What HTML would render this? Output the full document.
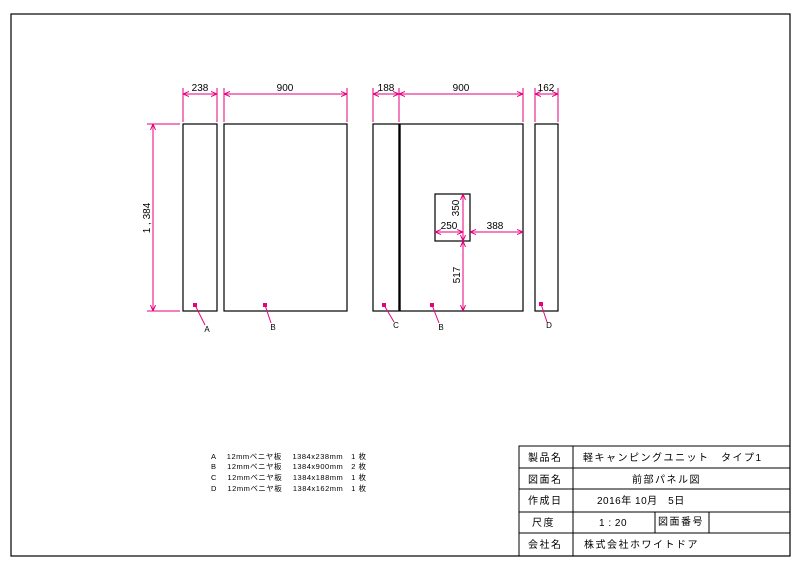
<!DOCTYPE html>
<html><head><meta charset="utf-8"><style>
html,body{margin:0;padding:0;background:#fff}
svg{display:block}
text{font-family:"Liberation Sans","Noto Sans CJK JP",sans-serif}
</style></head><body>
<svg width="800" height="565" viewBox="0 0 800 565" xmlns="http://www.w3.org/2000/svg">
<defs>
<marker id="ar" viewBox="0 0 6 6" refX="6" refY="3" markerWidth="6" markerHeight="6" orient="auto-start-reverse" markerUnits="userSpaceOnUse">
<path d="M0,0.5 L6,3 L0,5.5" fill="none" stroke="#e6007e" stroke-width="1"/>
</marker>
</defs>
<rect x="11" y="14" width="779" height="542" fill="none" stroke="#000" stroke-width="1.2"/>
<g fill="none" stroke="#000" stroke-width="1.2">
<rect x="183" y="124" width="34" height="187"/>
<rect x="224" y="124" width="123" height="187"/>
<rect x="373" y="124" width="150" height="187"/>
<line x1="399.5" y1="124" x2="399.5" y2="311" stroke-width="2.4"/>
<rect x="535" y="124" width="23" height="187"/>
<rect x="435" y="194" width="35" height="47"/>
</g>
<g stroke="#e6007e" stroke-width="1" fill="none">
<line x1="183" y1="88" x2="183" y2="122"/><line x1="217" y1="88" x2="217" y2="122"/>
<line x1="224" y1="88" x2="224" y2="122"/><line x1="347" y1="88" x2="347" y2="122"/>
<line x1="373" y1="88" x2="373" y2="122"/><line x1="399" y1="88" x2="399" y2="122"/><line x1="523" y1="88" x2="523" y2="122"/>
<line x1="535" y1="88" x2="535" y2="122"/><line x1="558" y1="88" x2="558" y2="122"/>
<line x1="147" y1="124" x2="180" y2="124"/><line x1="147" y1="311" x2="180" y2="311"/>
</g>
<g stroke="#e6007e" stroke-width="1" fill="none" marker-start="url(#ar)" marker-end="url(#ar)">
<line x1="183" y1="94" x2="217" y2="94"/>
<line x1="224" y1="94" x2="347" y2="94"/>
<line x1="373" y1="94" x2="399" y2="94"/>
<line x1="399" y1="94" x2="523" y2="94"/>
<line x1="535" y1="94" x2="558" y2="94"/>
<line x1="153" y1="124" x2="153" y2="311"/>
<line x1="463" y1="194" x2="463" y2="241"/>
<line x1="463" y1="241" x2="463" y2="311"/>
<line x1="435" y1="232" x2="463" y2="232"/>
<line x1="470" y1="232" x2="523" y2="232"/>
</g>
<g stroke="#e6007e" stroke-width="1" fill="none">
<line x1="195" y1="305" x2="205" y2="325"/>
<line x1="265" y1="305" x2="271" y2="323"/>
<line x1="384" y1="305" x2="394" y2="322"/>
<line x1="432" y1="305" x2="439" y2="323"/>
<line x1="541" y1="304" x2="547" y2="322"/>
</g>
<g fill="#e6007e">
<rect x="193" y="303" width="4" height="4"/><rect x="263" y="303" width="4" height="4"/>
<rect x="382" y="303" width="4" height="4"/><rect x="430" y="303" width="4" height="4"/>
<rect x="539" y="302" width="4" height="4"/>
</g>
<g font-size="10" fill="#000" text-anchor="middle">
<text x="200" y="91">238</text><text x="285" y="91">900</text>
<text x="386" y="91">188</text><text x="461" y="91">900</text>
<text x="546" y="91">162</text>
<text x="449" y="229">250</text><text x="495" y="229">388</text>
<text transform="translate(150,218) rotate(-90)">1 , 384</text>
<text transform="translate(459,208) rotate(-90)">350</text>
<text transform="translate(460,275) rotate(-90)">517</text>
</g>
<g font-size="8" fill="#000" text-anchor="middle">
<text x="207" y="332">A</text><text x="273" y="330">B</text>
<text x="396" y="328">C</text><text x="441" y="330">B</text>
<text x="549" y="328">D</text>
</g>
<g font-size="7.5" fill="#000">
<text x="211" y="459" textLength="155" lengthAdjust="spacing">A　 12mmベニヤ板　 1384x238mm　1 枚</text>
<text x="211" y="469" textLength="155" lengthAdjust="spacing">B　 12mmベニヤ板　 1384x900mm　2 枚</text>
<text x="211" y="480" textLength="155" lengthAdjust="spacing">C　 12mmベニヤ板　 1384x188mm　1 枚</text>
<text x="211" y="491" textLength="155" lengthAdjust="spacing">D　 12mmベニヤ板　 1384x162mm　1 枚</text>
</g>
<g fill="none" stroke="#000" stroke-width="1">
<rect x="519" y="446" width="271" height="110"/>
<line x1="519" y1="468" x2="790" y2="468"/>
<line x1="519" y1="489" x2="790" y2="489"/>
<line x1="519" y1="512" x2="790" y2="512"/>
<line x1="519" y1="533" x2="790" y2="533"/>
<line x1="573" y1="446" x2="573" y2="556"/>
<line x1="655" y1="512" x2="655" y2="533"/>
<line x1="709" y1="512" x2="709" y2="533"/>
</g>
<g font-size="10" fill="#000" letter-spacing="1.5">
<text x="528" y="461">製品名</text>
<text x="528" y="483">図面名</text>
<text x="528" y="504">作成日</text>
<text x="532" y="526">尺度</text>
<text x="528" y="548">会社名</text>
<text x="583" y="461">軽キャンピングユニット　タイプ1</text>
<text x="632" y="483">前部パネル図</text>
<text x="597" y="504" letter-spacing="0.5">2016年 10月　5日</text>
<text x="599" y="526" letter-spacing="0.5">1 : 20</text>
<text x="658" y="525">図面番号</text>
<text x="584" y="548">株式会社ホワイトドア</text>
</g>
</svg>
</body></html>
